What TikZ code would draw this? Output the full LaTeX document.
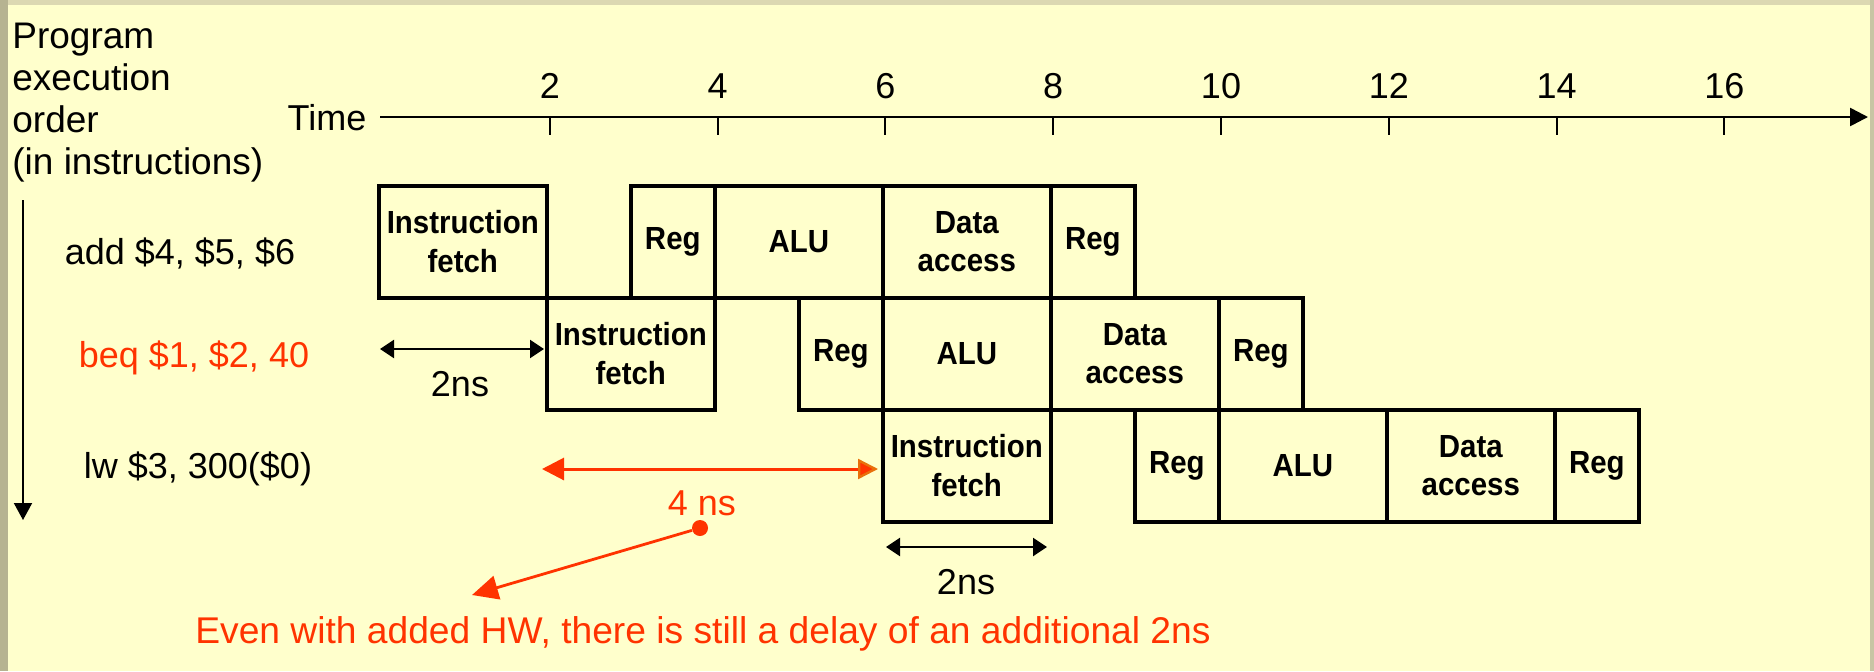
\documentclass[tikz,border=0pt]{standalone}
\usepackage{fontspec}
\setmainfont{Liberation Sans}
\newfontfamily\stagefont[FakeStretch=0.92]{Liberation Sans}
\usetikzlibrary{arrows.meta}

\definecolor{paper}{HTML}{FFFFCC}
\definecolor{rimleft}{HTML}{B6B391}
\definecolor{rimtop}{HTML}{DCD8B2}
\definecolor{rimright}{HTML}{C8C5A4}
\definecolor{hot}{HTML}{FF3300}
\definecolor{amber}{HTML}{E8700A}

\tikzset{
  stage/.style={draw, line width=1.8pt, anchor=north west, inner sep=0pt,
    align=center, minimum height=56pt,
    font=\stagefont\bfseries\fontsize{16}{19.3}\selectfont},
  stageone/.style={stage, minimum width=42pt},
  stagetwo/.style={stage, minimum width=84pt},
  lbl/.style={inner sep=0pt, anchor=base, font=\fontsize{18}{20}\selectfont},
  tickmark/.style={line width=1pt},
  axis/.style={line width=1.3pt, -{Triangle[length=9pt,width=9pt]}},
  orderarrow/.style={line width=1pt, -{Triangle[length=8.5pt,width=9pt]}},
  span/.style={line width=1.2pt,
    {Triangle[length=7pt,width=9pt]}-{Triangle[length=7pt,width=9pt]}},
  hotspan/.style={hot, line width=1.5pt,
    {Triangle[length=11pt,width=11pt,fill=hot,color=hot]}-{Triangle[length=10pt,width=10pt,fill=hot,color=amber,line width=1.2pt]}},
  pointer/.style={hot, line width=1.4pt, -{Triangle[length=13pt,width=12pt]}},
}

\begin{document}
\begin{tikzpicture}[x=0.5pt,y=-0.5pt]
  % page and its rims
  \fill[paper] (0,0) rectangle (1874,671);
  \useasboundingbox (0,0) rectangle (1874,671);
  \fill[rimtop] (0,0) rectangle (1874,5);
  \fill[rimleft] (0,0) rectangle (8,671);
  \fill[rimright] (1870,0) rectangle (1874,671);

  % left heading and the order arrow
  \node[inner sep=0pt, anchor=north west, align=left,
        font=\fontsize{18.5}{21}\selectfont] (heading) at (12,23)
        {Program\\execution\\order\\(in instructions)};
  \coordinate (ordTop) at (23,200);
  \coordinate (ordBot) at (23,520);
  \draw[orderarrow] (ordTop) -- (ordBot);

  % time axis
  \node[lbl] (timelbl) at (327,130) {Time};
  \coordinate (tStart) at (380,117);
  \coordinate (tEnd) at (1868,117);
  \draw[axis] (tStart) -- (tEnd);
  \foreach \t in {2,4,...,16} {
    \draw[tickmark] (382+83.9*\t,117) -- (382+83.9*\t,135);
    \node[lbl] (tick\t) at (382+83.9*\t,98) {\t};
  }

  % instruction names
  \node[lbl] (insA) at (180,264) {add \$4, \$5, \$6};
  \node[lbl, text=hot] (insB) at (194,367) {beq \$1, \$2, 40};
  \node[lbl] (insC) at (198,478) {lw \$3, 300(\$0)};

  % add: stages
  \node[stagetwo] (a1) at (377,184) {Instruction\\fetch};
  \node[stageone] (a2) at (629,184) {Reg};
  \node[stagetwo] (a3) at (713,184) {ALU};
  \node[stagetwo] (a4) at (881,184) {Data\\access};
  \node[stageone] (a5) at (1049,184) {Reg};

  % beq: stages
  \node[stagetwo] (b1) at (545,296) {Instruction\\fetch};
  \node[stageone] (b2) at (797,296) {Reg};
  \node[stagetwo] (b3) at (881,296) {ALU};
  \node[stagetwo] (b4) at (1049,296) {Data\\access};
  \node[stageone] (b5) at (1217,296) {Reg};

  % lw: stages
  \node[stagetwo] (c1) at (881,408) {Instruction\\fetch};
  \node[stageone] (c2) at (1133,408) {Reg};
  \node[stagetwo] (c3) at (1217,408) {ALU};
  \node[stagetwo] (c4) at (1385,408) {Data\\access};
  \node[stageone] (c5) at (1553,408) {Reg};

  % fetch durations
  \coordinate (sA) at (380,349);
  \coordinate (sB) at (544,349);
  \draw[span] (sA) -- (sB);
  \node[lbl] (nsA) at (460,396) {2ns};

  \coordinate (sC) at (886,547);
  \coordinate (sD) at (1047,547);
  \draw[span] (sC) -- (sD);
  \node[lbl] (nsB) at (966,594) {2ns};

  % the stall
  \coordinate (hA) at (542,469);
  \coordinate (hB) at (878,469);
  \draw[hotspan] (hA) -- (hB);
  \node[lbl, text=hot] (nsC) at (702,515) {4 ns};
  \node[circle, fill=hot, inner sep=0pt, minimum size=8pt] (dot) at (700,528) {};
  \coordinate (ptip) at (472,595);
  \draw[pointer] (dot) -- (ptip);
  \node[lbl, text=hot, font=\fontsize{18.6}{21}\selectfont] (note) at (703,643)
    {Even with added HW, there is still a delay of an additional 2ns};
\end{tikzpicture}
\end{document}
